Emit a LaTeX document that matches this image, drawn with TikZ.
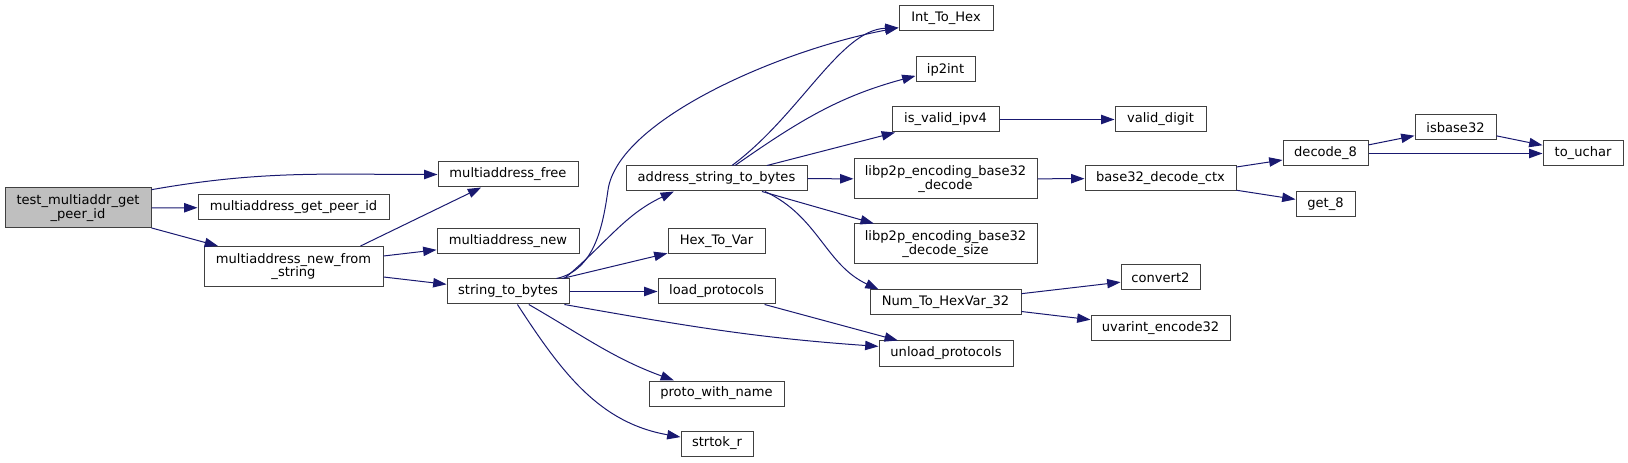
\documentclass[tikz,border=0pt]{standalone}
\usepackage{fontspec}
\setmainfont{DejaVu Sans}
\usetikzlibrary{arrows.meta}
\definecolor{edgeblue}{HTML}{191970}
\definecolor{boxgray}{HTML}{404040}
\definecolor{rootgray}{HTML}{BFBFBF}

\begin{document}
\begin{tikzpicture}[x=0.75pt, y=-0.75pt, >={Triangle[length=10pt,width=7pt]},
  fn/.style={draw=boxgray, fill=white, line width=0.75pt, inner sep=0pt,
    minimum height=18.75pt, align=center, font=\fontsize{9.8}{10}\selectfont},
  fn2/.style={fn, minimum height=30pt},
  bw/.style={minimum width=#1*0.75pt},
  call/.style={draw=edgeblue, line width=0.75pt, ->}]
  \useasboundingbox (0,0) rectangle (1628,463);

  % Spalte 1-2
  \node[fn2, bw=146, fill=rootgray] (test) at (78,208) {test\_multiaddr\_get\\\_peer\_id};
  \node[fn, bw=191] (mgetpeer) at (293.5,207.5) {multiaddress\_get\_peer\_id};
  \node[fn2, bw=179] (mnewfrom) at (293.5,266.5) {multiaddress\_new\_from\\\_string};

  % Spalte 3
  \node[fn, bw=140] (mfree) at (508,174.5) {multiaddress\_free};
  \node[fn, bw=142] (mnew) at (508,241.5) {multiaddress\_new};
  \node[fn, bw=122] (strbytes) at (508,291.5) {string\_to\_bytes};

  % Spalte 4
  \node[fn, bw=181] (addrbytes) at (716.5,178.5) {address\_string\_to\_bytes};
  \node[fn, bw=97] (hexvar) at (716.5,241.5) {Hex\_To\_Var};
  \node[fn, bw=117] (loadp) at (716.5,291.5) {load\_protocols};
  \node[fn, bw=135] (protoname) at (716.5,393.5) {proto\_with\_name};
  \node[fn, bw=72] (strtok) at (717,443.5) {strtok\_r};

  % Spalte 5
  \node[fn, bw=94] (inthex) at (946,18.5) {Int\_To\_Hex};
  \node[fn, bw=59] (ipint) at (945.5,69.5) {ip2int};
  \node[fn, bw=107] (validip) at (945.5,119.5) {is\_valid\_ipv4};
  \node[fn2, bw=183] (bdecode) at (945.5,179) {libp2p\_encoding\_base32\\\_decode};
  \node[fn2, bw=183] (bdecsize) at (945.5,244) {libp2p\_encoding\_base32\\\_decode\_size};
  \node[fn, bw=151] (numhex) at (945.5,302.5) {Num\_To\_HexVar\_32};
  \node[fn, bw=134] (unloadp) at (946,353.5) {unload\_protocols};

  % Spalte 6-8
  \node[fn, bw=91] (validdig) at (1160.5,119.5) {valid\_digit};
  \node[fn, bw=151] (bctx) at (1160.5,178.5) {base32\_decode\_ctx};
  \node[fn, bw=79] (conv) at (1160.5,277.5) {convert2};
  \node[fn, bw=139] (uvar) at (1160.5,328) {uvarint\_encode32};
  \node[fn, bw=85] (dec8) at (1325.5,153.5) {decode\_8};
  \node[fn, bw=59] (get8) at (1325.5,204) {get\_8};
  \node[fn, bw=81] (isb32) at (1455.5,127.5) {isbase32};
  \node[fn, bw=80] (uchar) at (1583,153.5) {to\_uchar};

  % gerade Aufrufe
  \foreach \a/\b in {test/mgetpeer, test/mnewfrom, mnewfrom/mnew, mnewfrom/strbytes,
      strbytes/hexvar, strbytes/loadp, loadp/unloadp, addrbytes/validip,
      addrbytes/bdecode, addrbytes/bdecsize, validip/validdig, bdecode/bctx,
      bctx/dec8, bctx/get8, numhex/conv, numhex/uvar, dec8/isb32, dec8/uchar, isb32/uchar}
    \draw[call] (\a) -- (\b);
  \draw[call] (mnewfrom.17) -- (mfree);

  % gebogene Aufrufe
  \draw[call] (test.14) to[out=10,in=180] (mfree.west);
  \draw[call] (strbytes.13) to[out=40,in=205] (addrbytes.197);
  \draw[call] (strbytes.15) .. controls (595,270) and (603,225) .. (608,190)
    .. controls (618,120) and (780,50) .. (inthex.191);
  \draw[call] (strbytes.-13) to[out=-10,in=176] (unloadp.174);
  \draw[call] (strbytes.-32) to[out=-30,in=160] (protoname.163);
  \draw[call] (strbytes.-54) to[out=-57,in=170] (strtok.170);
  \draw[call] (addrbytes.40) .. controls (800,115) and (840,30) .. (inthex.191);
  \draw[call] (addrbytes.35) to[out=35,in=195] (ipint.192);
  \draw[call] (addrbytes.-15) to[out=-25,in=155] (numhex.169);
\end{tikzpicture}
\end{document}
